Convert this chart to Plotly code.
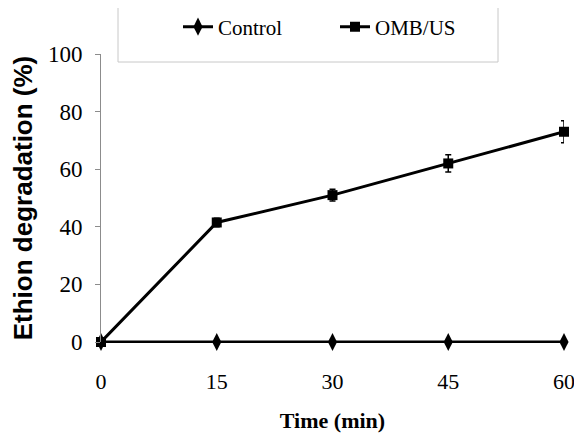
import plotly.graph_objects as go

time_min = [0, 15, 30, 45, 60]
control = [0, 0, 0, 0, 0]
omb_us = [0, 41.5, 51, 62, 73]
omb_us_err = [0, 1.5, 2, 3, 3.8]
x_ticks = [0, 15, 30, 45, 60]
y_ticks = [0, 20, 40, 60, 80, 100]

OFF = 8  # page body margin
W, H = 582 - OFF, 439 - OFF
# desired plot area in page pixels: left 101, right 564, top 54, bottom 342
L = 101 - OFF
R = W - (564 - OFF)
T = 54 - OFF
B = H - (342 - OFF)
pw, ph = W - L - R, H - T - B

SERIF = "Liberation Serif"
SANS = "Liberation Sans"

def px_x(p):
    return (p - OFF - L) / pw

def px_y(p):
    return (H - B - (p - OFF)) / ph

fig = go.Figure()
fig.add_trace(go.Scatter(
    x=time_min, y=control, name="Control", mode="lines+markers",
    line=dict(color="black", width=3),
    marker=dict(symbol="diamond-tall", size=13, color="black"),
    cliponaxis=False,
))
fig.add_trace(go.Scatter(
    x=time_min, y=omb_us, name="OMB/US", mode="lines+markers",
    line=dict(color="black", width=3),
    marker=dict(symbol="square", size=10, color="black"),
    error_y=dict(type="data", array=omb_us_err, visible=True,
                 color="black", thickness=1.5, width=3),
    cliponaxis=False,
))

fig.add_shape(type="rect", xref="paper", yref="paper",
              x0=px_x(118), x1=px_x(498), y0=px_y(62), y1=px_y(-3),
              line=dict(color="#c8c8c8", width=1), fillcolor="rgba(0,0,0,0)")

fig.update_layout(
    width=W, height=H,
    margin=dict(l=L, r=R, t=T, b=B, pad=0, autoexpand=False),
    paper_bgcolor="white", plot_bgcolor="white",
    font=dict(family=SERIF, color="black", size=22),
    showlegend=True,
    legend=dict(orientation="h", xref="container", x=(178 - OFF) / W, xanchor="left",
                yref="container", y=1 - (27 - OFF) / H, yanchor="middle",
                font=dict(family=SERIF, size=21),
                bgcolor="rgba(0,0,0,0)", entrywidth=112, entrywidthmode="pixels",
                itemwidth=30, tracegroupgap=0),
    xaxis=dict(range=[0, 60], tickmode="array", tickvals=x_ticks,
               showgrid=False, zeroline=False, showline=True,
               linecolor="black", linewidth=1, automargin=False,
               ticks="outside", ticklen=20, tickcolor="rgba(0,0,0,0)",
               ticklabeloverflow="allow",
               tickfont=dict(family=SERIF, size=22),
               title=dict(text="<b>Time (min)</b>", standoff=19,
                          font=dict(family=SERIF, size=22))),
    yaxis=dict(range=[0, 100], tickmode="array", tickvals=y_ticks,
               showgrid=False, zeroline=False, showline=True,
               linecolor="#8c8c8c", linewidth=1, automargin=False,
               ticks="outside", ticklen=5, tickcolor="#8c8c8c",
               ticklabelstandoff=8,
               tickfont=dict(family=SERIF, size=23),
               title=dict(text="<b>Ethion degradation (%)</b>", standoff=12,
                          font=dict(family=SANS, size=26))),
)

fig.write_html("out.html", post_script="document.body.style.overflow='hidden';")
